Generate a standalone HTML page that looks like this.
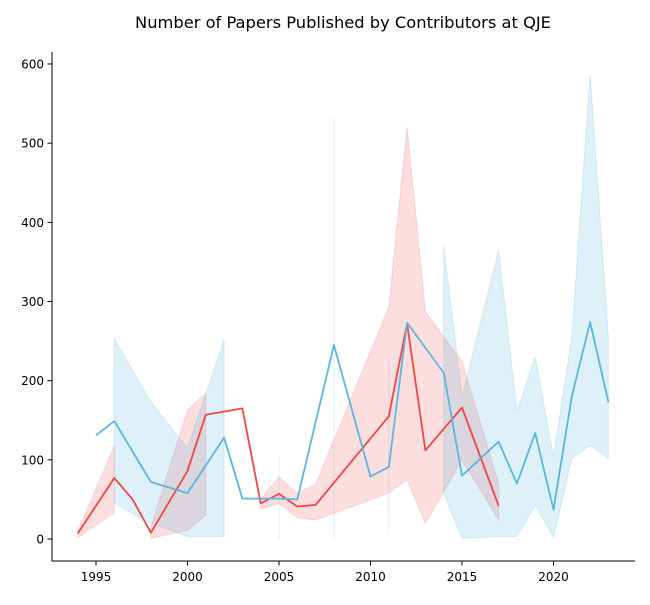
<!DOCTYPE html>
<html><head><meta charset="utf-8"><style>
body{margin:0;background:#fff;}
svg text{font-family:"DejaVu Sans","Liberation Sans",sans-serif;}
</style></head><body>
<svg id="chart" width="650" height="600" xmlns="http://www.w3.org/2000/svg">
<rect width="650" height="600" fill="#fff"/>
<text x="343" y="28" font-size="16.3" text-anchor="middle" fill="#000">Number of Papers Published by Contributors at QJE</text>
<g id="bands"></g><g id="lines"></g><g id="axes"></g>
</svg>
<script>
// Blue series (segments separated by null)
const blueYears = [1995,1996,1998,2000,2002,2003,2004,2005,2006,2008,2010,2011,2012,2014,2015,2017,2018,2019,2020,2021,2022,2023];
const blueMean  = [131,149,72,58,128,51,51,51,50,245,79,91,273,210,80,123,70,134,37,180,274,173];
const blueLow   = [null,45,20,3,3,null,null,0,null,0,null,8,null,58,1,3,3,43,2,102,118,102];
const blueHigh  = [null,253,173,115,252,null,null,105,null,532,null,228,null,371,180,365,161,230,104,255,587,255];
// Red series
const redYears = [1994,1996,1997,1998,2000,2001,2003,2004,2005,2006,2007,2011,2012,2013,2015,2017];
const redMean  = [7,77,50,8,86,157,165,45,57,41,43,155,272,112,166,42];
const redLow   = [2,33,null,1,11,30,null,38,45,27,24,58,75,20,100,24];
const redHigh  = [10,117,null,15,163,184,null,50,78,58,69,293,520,287,224,70];
const xTicks = [1995,2000,2005,2010,2015,2020];
const yTicks = [0,100,200,300,400,500,600];

const NS="http://www.w3.org/2000/svg";
const xs = y => 96 + (y-1995)*18.3;
const ys = v => 539 - v*0.7917;
function mk(tag, attrs, parent){const e=document.createElementNS(NS,tag);for(const k in attrs)e.setAttribute(k,attrs[k]);document.getElementById(parent).appendChild(e);return e;}

function bands(years, lo, hi, fill, stroke, name){
  let seg=[];
  const flush=()=>{
    if(!seg.length)return;
    let d;
    if(seg.length===1){const i=seg[0];d=`M${xs(years[i])},${ys(hi[i])}L${xs(years[i])},${ys(lo[i])}`;}
    else{d='M'+seg.map(i=>xs(years[i])+','+ys(hi[i])).join('L')+'L'+seg.slice().reverse().map(i=>xs(years[i])+','+ys(lo[i])).join('L')+'Z';}
    const p=mk('path',{d:d,fill:fill,'fill-opacity':0.2,stroke:stroke,'stroke-opacity':0.2,'stroke-width':1},'bands');
    
    
    seg=[];
  };
  years.forEach((y,i)=>{ if(lo[i]===null) flush(); else seg.push(i); });
  flush();
}
bands(redYears, redLow, redHigh, '#f15a5a', '#f15a5a', 'red-confidence-band');
bands(blueYears, blueLow, blueHigh, '#5ab4dc', '#5ab4dc', 'blue-confidence-band');

function line(years, vals, color, name){
  const p=mk('polyline',{points:years.map((y,i)=>xs(y)+','+ys(vals[i])).join(' '),fill:'none',stroke:color,'stroke-width':1.8,'stroke-linejoin':'round'},'lines');
  
  
}
line(redYears, redMean, '#f24646', 'red-series-line');
line(blueYears, blueMean, '#5cb6dd', 'blue-series-line');

const ax=mk('path',{d:'M52,52V561H635',fill:'none',stroke:'#000','stroke-width':1},'axes');


xTicks.forEach(t=>{
  const l=mk('line',{x1:xs(t),x2:xs(t),y1:561,y2:565.5,stroke:'#000'},'axes');
  
  
  const tx=mk('text',{x:xs(t),y:581,'font-size':12,'text-anchor':'middle'},'axes');tx.textContent=t;
  
  
});
yTicks.forEach(t=>{
  const l=mk('line',{x1:47.5,x2:52,y1:ys(t),y2:ys(t),stroke:'#000'},'axes');
  
  
  const tx=mk('text',{x:44,y:ys(t)+4.5,'font-size':12,'text-anchor':'end'},'axes');tx.textContent=t;
  
  
});
</script>
</body></html>
